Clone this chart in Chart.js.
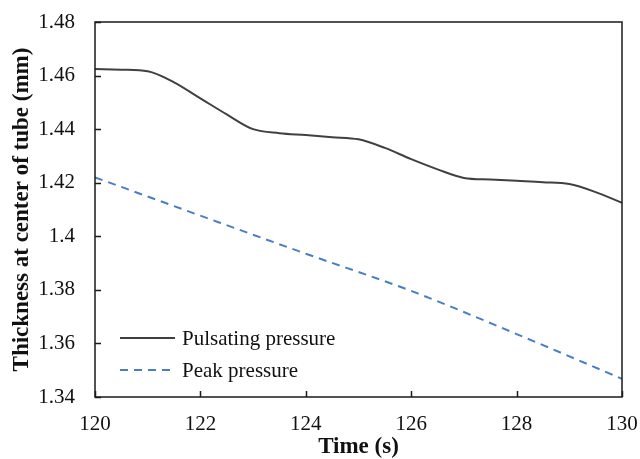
<!DOCTYPE html>
<html>
<head>
<meta charset="utf-8">
<script src="https://cdn.jsdelivr.net/npm/chart.js@4"></script>
<style>
  html, body { margin: 0; padding: 0; background: #fff; }
  #wrap { width: 640px; height: 459px; }
</style>
</head>
<body>
<div id="wrap"><canvas id="thicknessChart" width="640" height="459"></canvas></div>
<script>
const pulsTime = [120, 120.5, 121, 121.5, 122, 122.5, 123, 123.5, 124, 124.5, 125, 125.5, 126, 126.5, 127, 127.5, 128, 128.5, 129, 129.5, 130];
const pulsThick = [1.4625, 1.4622, 1.4616, 1.4575, 1.4515, 1.4455, 1.4400, 1.4385, 1.4378, 1.4370, 1.4362, 1.4330, 1.4288, 1.4250, 1.4218, 1.4212, 1.4207, 1.4202, 1.4195, 1.4165, 1.4125];
const peakTime = [120, 122, 124, 126, 128, 130];
const peakThick = [1.4220, 1.4077, 1.3935, 1.3796, 1.3635, 1.3468];
const xTicks = [120, 122, 124, 126, 128, 130];
const yTicks = [1.34, 1.36, 1.38, 1.40, 1.42, 1.44, 1.46, 1.48];
const seriesNames = ['Pulsating pressure', 'Peak pressure'];
const seriesColors = ['#404040', '#4a7ec4'];

const serif = '"Liberation Serif", "Times New Roman", serif';

// box, inward ticks and the legend
const framePlugin = {
    id: 'frame',
    afterDraw(chart) {
        const c = chart.ctx;
        const a = chart.chartArea;
        const xs = chart.scales.x, ys = chart.scales.y;
        c.save();
        c.strokeStyle = '#1a1a1a';
        c.lineWidth = 1.5;
        c.strokeRect(a.left, a.top, a.right - a.left, a.bottom - a.top);
        c.beginPath();
        xTicks.forEach(t => {
            const px = Math.round(xs.getPixelForValue(t)) + 0.5;
            c.moveTo(px, a.bottom);
            c.lineTo(px, a.bottom - 6);
        });
        yTicks.forEach(t => {
            const py = Math.round(ys.getPixelForValue(t)) + 0.5;
            c.moveTo(a.left, py);
            c.lineTo(a.left + 6, py);
        });
        c.stroke();

        const lx = a.left + 25, ly = a.bottom - 59;
        c.font = '21px ' + serif;
        c.textBaseline = 'middle';
        c.fillStyle = '#111';
        seriesNames.forEach((name, i) => {
            const y = ly + i * 32;
            c.beginPath();
            c.strokeStyle = seriesColors[i];
            c.lineWidth = 2;
            c.setLineDash(i === 1 ? [8, 6] : []);
            c.moveTo(lx, y);
            c.lineTo(lx + 55, y);
            c.stroke();
            c.setLineDash([]);
            c.fillText(name, lx + 62, y + 1);
        });
        c.restore();
    }
};

const ctx = document.getElementById('thicknessChart').getContext('2d');
const thicknessChart = new Chart(ctx, {
    type: 'line',
    data: {
        datasets: [{
            label: seriesNames[0],
            data: pulsTime.map((t, i) => ({ x: t, y: pulsThick[i] })),
            borderColor: seriesColors[0],
            borderWidth: 2,
            pointRadius: 0,
            cubicInterpolationMode: 'monotone',
            fill: false
        }, {
            label: seriesNames[1],
            data: peakTime.map((t, i) => ({ x: t, y: peakThick[i] })),
            borderColor: seriesColors[1],
            borderWidth: 2,
            borderDash: [8, 6],
            pointRadius: 0,
            cubicInterpolationMode: 'monotone',
            fill: false
        }]
    },
    options: {
        responsive: false,
        animation: false,
        layout: { padding: { left: 0, right: 18, top: 22, bottom: 0 } },
        plugins: {
            legend: { display: false },
            tooltip: { enabled: false }
        },
        scales: {
            x: {
                type: 'linear',
                min: 120,
                max: 130,
                afterBuildTicks: s => { s.ticks = xTicks.map(v => ({ value: v })); },
                afterFit: s => { s.height = 62; s.paddingLeft = 0; s.paddingRight = 0; },
                grid: { display: false, drawTicks: false },
                border: { display: false },
                ticks: {
                    color: '#111',
                    font: { family: serif, size: 21 },
                    padding: 15,
                    maxRotation: 0,
                    callback: v => String(v)
                },
                title: {
                    display: true,
                    text: 'Time (s)',
                    color: '#111',
                    font: { family: serif, size: 23, weight: 'bold' },
                    padding: { top: 0, bottom: -2 }
                }
            },
            y: {
                min: 1.34,
                max: 1.48,
                afterBuildTicks: s => { s.ticks = yTicks.map(v => ({ value: v })); },
                afterFit: s => { s.width = 95; s.paddingTop = 0; s.paddingBottom = 0; },
                grid: { display: false, drawTicks: false },
                border: { display: false },
                ticks: {
                    color: '#111',
                    font: { family: serif, size: 21 },
                    padding: 20,
                    callback: v => String(parseFloat(Number(v).toFixed(2)))
                },
                title: {
                    display: true,
                    text: 'Thickness at center of tube (mm)',
                    color: '#111',
                    font: { family: serif, size: 23, weight: 'bold' },
                    padding: { top: 8, bottom: 0 }
                }
            }
        }
    },
    plugins: [framePlugin]
});
</script>
</body>
</html>
